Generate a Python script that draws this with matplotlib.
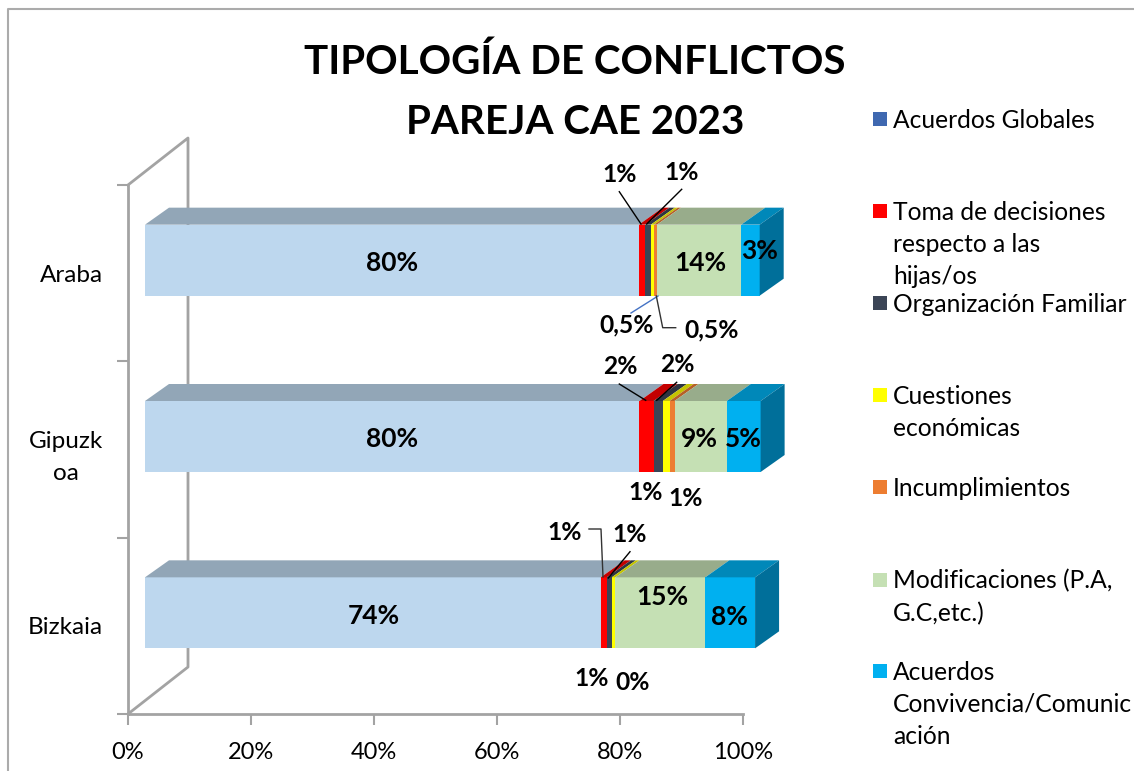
import matplotlib
matplotlib.use('Agg')
import matplotlib.pyplot as plt
import numpy as np

W, H = 1134, 771

#データ
provincias = ['Bizkaia', 'Gipuzk\noa', 'Araba']
series = ['Acuerdos base', 'Toma', 'Organizacion', 'Cuestiones', 'Incumplimientos', 'Modificaciones', 'Convivencia']
acuerdos_base = [74.1, 80.4, 80.3]
toma = [1.0, 2.3, 1.05]
organizacion = [0.8, 1.5, 0.9]
cuestiones = [0.6, 1.1, 0.5]
incumplimientos = [0.0, 0.8, 0.5]
modificaciones = [14.6, 8.5, 13.7]
convivencia = [8.1, 5.5, 3.0]
valores = [acuerdos_base, toma, organizacion, cuestiones, incumplimientos, modificaciones, convivencia]
colores = ['#BDD7EE', '#FF0000', '#3B4556', '#FFFF00', '#ED7D31', '#C5E0B4', '#00B0F0']

leyenda = ['Acuerdos Globales', 'Toma de decisiones\nrespecto a las\nhijas/os', 'Organización Familiar',
           'Cuestiones\neconómicas', 'Incumplimientos', 'Modificaciones (P.A,\nG.C,etc.)',
           'Acuerdos\nConvivencia/Comunic\nación']
leyenda_colores = ['#3F68B0', '#FF0000', '#3B4556', '#FFFF00', '#ED7D31', '#C5E0B4', '#00B0F0']

plt.rcParams['font.family'] = ['Lato', 'DejaVu Sans']

fig = plt.figure(figsize=(W / 100, H / 100), dpi=100)
ax = fig.add_axes([128 / W, 1 - 714 / H, 615 / W, 529 / H])
ax.set_xlim(0, 100)
ax.set_ylim(0, 3)

def oscuro(color, f):
    r, g, b = matplotlib.colors.to_rgb(color)
    return (r * f, g * f, b * f)

#3D風のオフセット
off_x, off_y = 17 / 6.15, 13 / 176.33
prof_x, prof_y = 24 / 6.15, 17 / 176.33
alto = 71 / 176.33
gris = '#A3A3A3'

#paredes
pared_x, pared_y = 60 / 6.15, 47 / 176.33
ax.plot([0, pared_x, pared_x, 0], [3, 3 + pared_y, pared_y, 0], color=gris, lw=2, clip_on=False, zorder=1)

for i in range(3):
    y = i + 0.5 + off_y
    izq = off_x
    for v, c in zip(valores, colores):
        ax.barh(y, v[i], height=alto, left=izq, color=c, zorder=3, clip_on=False)
        #cara superior
        ax.fill([izq, izq + v[i], izq + v[i] + prof_x, izq + prof_x],
                [y + alto / 2, y + alto / 2, y + alto / 2 + prof_y, y + alto / 2 + prof_y],
                color=oscuro(c, 0.77), lw=0, zorder=3, clip_on=False)
        izq += v[i]
    #cara lateral
    ax.fill([izq, izq + prof_x, izq + prof_x, izq],
            [y - alto / 2, y - alto / 2 + prof_y, y + alto / 2 + prof_y, y + alto / 2],
            color='#006F9A', lw=0, zorder=3, clip_on=False)

for s in ['top', 'right']:
    ax.spines[s].set_visible(False)
for s in ['left', 'bottom']:
    ax.spines[s].set_color(gris)
    ax.spines[s].set_linewidth(2)

ax.set_xticks(np.arange(0, 101, 20))
ax.set_xticklabels(['0%', '20%', '40%', '60%', '80%', '100%'], fontsize=17, color='black')
ax.tick_params(axis='x', length=8, width=1.5, color=gris, pad=12)
ax.set_yticks([0.5, 1.5, 2.5])
ax.set_yticklabels(provincias, fontsize=17.5, color='black', ma='center', linespacing=1.7)
ax.set_yticks([0, 1, 2, 3], minor=True)
ax.tick_params(axis='y', which='major', length=0, pad=18)
ax.tick_params(axis='y', which='minor', length=8, width=1.5, color=gris)

#capa en pixeles para textos
ov = fig.add_axes([0, 0, 1, 1], zorder=5)
ov.set_xlim(0, W)
ov.set_ylim(H, 0)
ov.axis('off')
ov.patch.set_alpha(0)

#marco
ov.plot([8, 8, 1134], [771, 9, 9], color='#ABABAB', lw=1.5)

ov.text(575, 62, 'TIPOLOGÍA DE CONFLICTOS', fontsize=29.1, fontweight='bold', ha='center', va='center')
ov.text(575, 122, 'PAREJA CAE 2023', fontsize=29.1, fontweight='bold', ha='center', va='center')

#etiquetas de datos
etiquetas = [('80%', 392, 263, 19), ('14%', 700, 263, 19), ('3%', 760, 251, 19),
             ('1%', 620, 175, 17.7), ('1%', 682, 172, 17.7), ('0,5%', 627, 325, 17.7), ('0,5%', 712, 330, 17.7),
             ('80%', 392, 439, 19), ('9%', 699, 439, 19), ('5%', 743, 439, 19),
             ('2%', 620, 367, 17.7), ('2%', 677, 365, 17.7), ('1%', 646, 493, 17.7), ('1%', 686, 498, 17.7),
             ('74%', 374, 616, 19), ('15%', 662, 597, 19), ('8%', 729, 617, 19),
             ('1%', 565, 532, 17.7), ('1%', 630, 535, 17.7), ('1%', 592, 679, 17.7), ('0%', 633, 682, 17.7)]
for t, x, y, fs in etiquetas:
    ov.text(x, y, t, fontsize=fs, fontweight='bold', ha='center', va='center')

#lineas guia
ov.plot([619.3, 641], [191.7, 224], color='black', lw=1)
ov.plot([681.7, 646.7], [189.3, 224], color='black', lw=1)
ov.plot([631, 658], [313, 296], color='#4472C4', lw=1)
ov.plot([656.3, 662.7, 675.7], [296, 327.7, 327.7], color='#333333', lw=1)
ov.plot([619.3, 645.7], [384, 400.3], color='black', lw=1)
ov.plot([676.7, 656.7], [382.3, 400.3], color='black', lw=1)
ov.plot([589, 601, 603], [529, 529, 577], color='#333333', lw=1)
ov.plot([630, 608.3], [551.7, 578], color='black', lw=1)

#leyenda
ley_y = [119, 211, 303, 395, 487, 580, 671]
for nombre, c, y0 in zip(leyenda, leyenda_colores, ley_y):
    ov.add_patch(plt.Rectangle((873, y0 - 7), 14, 14, color=c, lw=0))
    for j, linea in enumerate(nombre.split('\n')):
        ov.text(893, y0 + 1 + j * 32.5, linea, fontsize=17.7, ha='left', va='center')

plt.savefig('out.png', dpi=100)
plt.close()
